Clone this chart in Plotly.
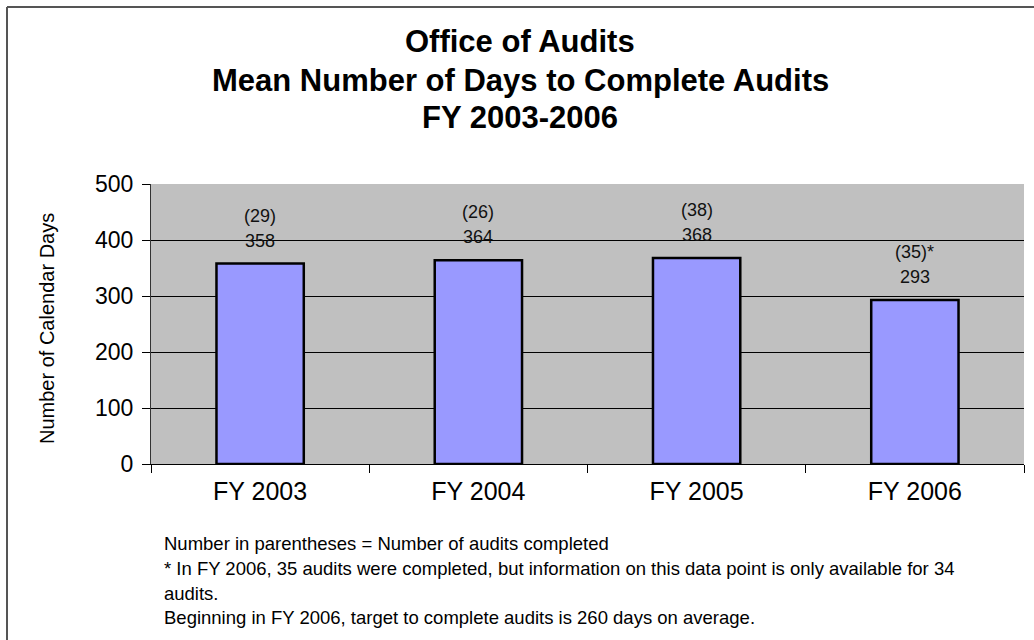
import plotly.graph_objects as go

# Mean number of calendar days to complete audits, by fiscal year
years = ["FY 2003", "FY 2004", "FY 2005", "FY 2006"]
mean_days = [358, 364, 368, 293]
audit_counts = ["(29)", "(26)", "(38)", "(35)*"]
y_ticks = [0, 100, 200, 300, 400, 500]
grid_ticks = [100, 200, 300, 400]

title_lines = [
    "Office of Audits",
    "Mean Number of Days to Complete Audits",
    "FY 2003-2006",
]
notes = [
    "Number in parentheses = Number of audits completed",
    "* In FY 2006, 35 audits were completed, but information on this data point is only available for 34",
    "audits.",
    "Beginning in FY 2006, target to complete audits is 260 days on average.",
]

FONT = "Arial, Liberation Sans, sans-serif"
W, H = 1034, 640
L, R, T, B = 151, 10, 184, 176
plot_w = W - L - R
plot_h = H - T - B


def px_x(px):
    return (px - L) / plot_w


def px_y(py):
    return (H - B - py) / plot_h


fig = go.Figure()
fig.add_trace(go.Bar(
    x=years,
    y=mean_days,
    width=0.4,
    marker=dict(color="#9999FF", line=dict(color="#000000", width=2.5)),
    hoverinfo="x+y",
))

annotations = []
for yr, val, cnt in zip(years, mean_days, audit_counts):
    annotations.append(dict(x=yr, y=val, xref="x", yref="y", text=str(val),
                            showarrow=False, yanchor="middle", yshift=23,
                            font=dict(family=FONT, size=18, color="#111111")))
    annotations.append(dict(x=yr, y=val, xref="x", yref="y", text=cnt,
                            showarrow=False, yanchor="middle", yshift=48,
                            font=dict(family=FONT, size=18, color="#111111")))

# chart title, one line per annotation
for line, py in zip(title_lines, [41, 80, 118]):
    annotations.append(dict(x=px_x(W / 2 + 3), y=px_y(py), xref="paper", yref="paper",
                            text=f"<b>{line}</b>", showarrow=False,
                            xanchor="center", yanchor="middle",
                            font=dict(family=FONT, size=31, color="#000000")))

# y-axis title
annotations.append(dict(x=px_x(47), y=px_y(329), xref="paper", yref="paper",
                        text="Number of Calendar Days", textangle=-90,
                        showarrow=False, xanchor="center", yanchor="middle",
                        font=dict(family=FONT, size=20, color="#000000")))

# footnotes below the chart
for note, py in zip(notes, [543, 568, 593, 617]):
    annotations.append(dict(x=px_x(162), y=px_y(py), xref="paper", yref="paper",
                            text=note, showarrow=False, xanchor="left",
                            yanchor="middle",
                            font=dict(family=FONT, size=18.5, color="#000000")))

# outer chart frame (top and left edges)
shapes = [
    dict(type="line", xref="paper", yref="paper", x0=px_x(7), x1=px_x(W),
         y0=px_y(7), y1=px_y(7), line=dict(color="#555555", width=2)),
    dict(type="line", xref="paper", yref="paper", x0=px_x(7), x1=px_x(7),
         y0=px_y(7), y1=px_y(H), line=dict(color="#555555", width=2)),
]

fig.update_layout(
    width=W, height=H,
    margin=dict(l=L, r=R, t=T, b=B),
    paper_bgcolor="#FFFFFF",
    plot_bgcolor="#C0C0C0",
    showlegend=False,
    bargap=0.6,
    xaxis=dict(
        type="category",
        tickson="boundaries",
        ticks="outside", ticklen=8, tickcolor="#000000", tickwidth=1,
        showline=True, linecolor="#000000", linewidth=1,
        showgrid=False,
        tickfont=dict(family=FONT, size=25, color="#000000"),
        ticklabelstandoff=5,
    ),
    yaxis=dict(
        range=[0, 500],
        tickvals=y_ticks,
        ticks="outside", ticklen=8, tickcolor="#000000", tickwidth=1,
        showline=True, linecolor="#333333", linewidth=1,
        showgrid=False, zeroline=False,
        tickfont=dict(family=FONT, size=23, color="#000000"),
        ticklabelstandoff=4,
    ),
    yaxis2=dict(
        overlaying="y", matches="y", range=[0, 500],
        tickvals=grid_ticks, showticklabels=False, ticks="",
        showgrid=True, gridcolor="#000000", gridwidth=1,
        showline=False, zeroline=False,
    ),
    annotations=annotations,
    shapes=shapes,
)

# invisible trace so the grid-only overlay axis is drawn
fig.add_trace(go.Scatter(x=years, y=mean_days, yaxis="y2", mode="markers",
                         marker=dict(opacity=0), hoverinfo="skip",
                         showlegend=False))

fig.write_html("out.html")
